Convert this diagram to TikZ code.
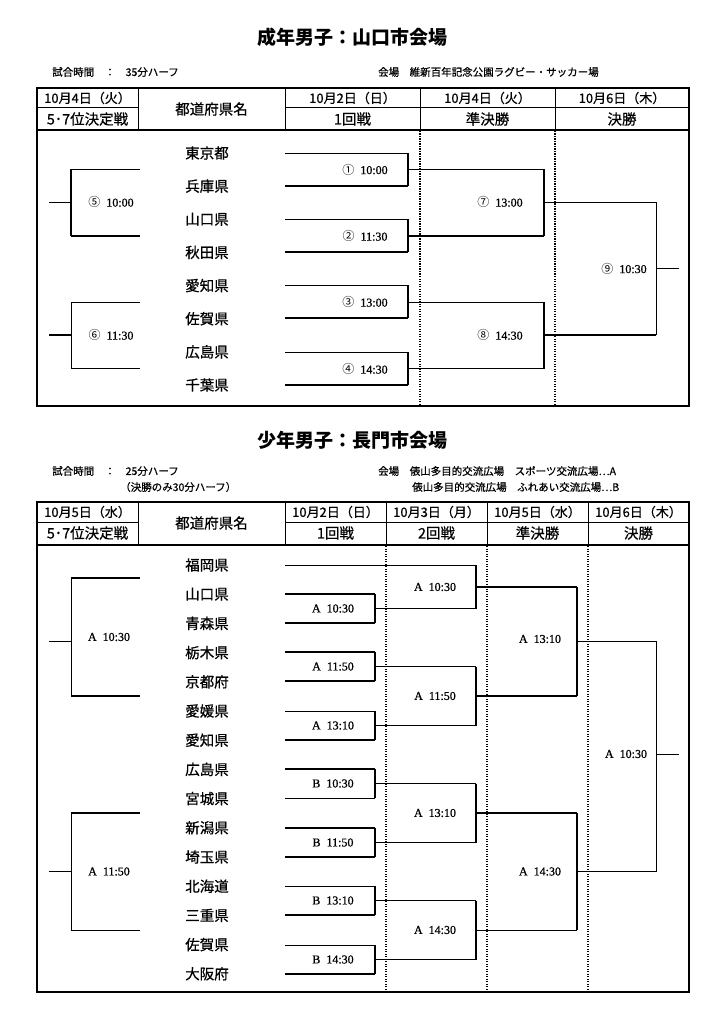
\documentclass[tikz,border=0pt]{standalone}
\usepackage{fontspec}
\setmainfont{Liberation Serif}
\newfontfamily\jp{Noto Sans CJK JP}
\newfontfamily\jpm[FakeBold=0.6]{Noto Sans CJK JP}
\newfontfamily\serb[FakeBold=0.8]{Liberation Serif}
\begin{document}
\begin{tikzpicture}[x=1pt,y=-1pt,
  thn/.style={line width=0.8pt},
  thk/.style={line width=1.8pt},
  frame/.style={line width=1.8pt},
  hline/.style={line width=1pt},
  dotv/.style={line width=1.2pt, dash pattern=on 1.1pt off 1.4pt},
  pref/.style={font=\jpm\fontsize{14.5}{15}\selectfont},
  lbl/.style={font=\serb\fontsize{12}{13}\selectfont},
  hdr/.style={font=\jpm\fontsize{13}{14}\selectfont},
  hdrk/.style={font=\jpm\fontsize{14.5}{15}\selectfont},
  small/.style={font=\jpm\fontsize{10.5}{11}\selectfont, anchor=west, inner sep=0pt},
  ttl/.style={font=\jp\bfseries\fontsize{19}{21}\selectfont}]
\useasboundingbox (0,0) rectangle (724,1024);
\fill[white] (0,0) rectangle (724,1024);

% ================= TOP =================
\node[ttl] (title1) at (352,37) {成年男子：山口市会場};
\node[small] (time1) at (52,72) {試合時間　：　35分ハーフ};
\node[small] (venue1) at (378,72) {会場　維新百年記念公園ラグビー・サッカー場};

\draw[frame] (37,88) rectangle (689,406);
\draw[frame] (37,130) -- (689,130);
\draw[hline] (37,108) -- (138,108);
\draw[hline] (285,108) -- (689,108);
\foreach \x in {138,285,420,555} \draw[hline] (\x,88) -- (\x,130);
\foreach \x in {420,555} \draw[dotv] (\x,131) -- (\x,405);

\node[hdr] (h1a) at (87.5,98) {10月4日（火）};
\node[hdrk] (h1b) at (87.5,119) {5･7位決定戦};
\node[hdrk] (h1c) at (211.5,109) {都道府県名};
\node[hdr] (h1d) at (352.5,98) {10月2日（日）};
\node[hdrk] (h1e) at (352.5,119) {1回戦};
\node[hdr] (h1f) at (487.5,98) {10月4日（火）};
\node[hdrk] (h1g) at (487.5,119) {準決勝};
\node[hdr] (h1h) at (622,98) {10月6日（木）};
\node[hdrk] (h1i) at (622,119) {決勝};

\foreach \n [count=\i from 0] in {東京都,兵庫県,山口県,秋田県,愛知県,佐賀県,広島県,千葉県}
  \node[pref] (tp\i) at (207,153+33.14*\i) {\n};

% first round
\draw[thn] (285,153) -- (408,153);
\draw[thk] (285,186) -- (408,186) (408,153) -- (408,186);
\draw[thn] (285,219) -- (408,219);
\draw[thk] (285,252) -- (408,252) (408,219) -- (408,252);
\draw[thn] (285,285) -- (408,285);
\draw[thk] (285,318) -- (408,318) (408,285) -- (408,318);
\draw[thn] (285,352) -- (408,352);
\draw[thk] (285,385) -- (408,385) (408,352) -- (408,385);
\node[lbl] (m1) at (365,169.5) {{\jp ①}\ \ 10:00};
\node[lbl] (m2) at (365,236) {{\jp ②}\ \ 11:30};
\node[lbl] (m3) at (365,302) {{\jp ③}\ \ 13:00};
\node[lbl] (m4) at (365,369) {{\jp ④}\ \ 14:30};
% semis
\draw[thk] (408,169.5) -- (544,169.5) (408,236) -- (544,236) (544,169.5) -- (544,236);
\draw[thn] (408,302) -- (544,302) (408,368.5) -- (544,368.5);
\draw[thk] (544,302) -- (544,368.5);
\node[lbl] (m7) at (500,202) {{\jp ⑦}\ \ 13:00};
\node[lbl] (m8) at (500,335) {{\jp ⑧}\ \ 14:30};
% final
\draw[thn] (544,202) -- (656,202) -- (656,335);
\draw[thk] (544,335) -- (656,335);
\draw[thk] (656,268.5) -- (679,268.5);
\node[lbl] (m9) at (624,268.5) {{\jp ⑨}\ \ 10:30};
% 5-7
\draw[thk] (140,169.5) -- (71,169.5) (71,236) -- (140,236);
\draw[line width=1.2pt] (71,169.5) -- (71,236);
\draw[thn] (49,202) -- (71,202);
\node[lbl] (m5) at (111,202) {{\jp ⑤}\ \ 10:00};
\draw[thn] (140,302) -- (71,302) -- (71,368.5) -- (140,368.5);
\draw[thk] (49,335) -- (71,335);
\node[lbl] (m6) at (111,335) {{\jp ⑥}\ \ 11:30};

% ================= BOTTOM =================
\node[ttl] (title2) at (352,440) {少年男子：長門市会場};
\node[small] (time2) at (52,471) {試合時間　：　25分ハーフ};
\node[small] (time2b) at (120,487) {（決勝のみ30分ハーフ）};
\node[small] (venue2) at (378,471) {会場　俵山多目的交流広場　スポーツ交流広場…A};
\node[small] (venue2b) at (412,487) {俵山多目的交流広場　ふれあい交流広場…B};

\draw[frame] (37,502) rectangle (689,992);
\draw[frame] (37,545) -- (689,545);
\draw[hline] (37,522) -- (138,522);
\draw[hline] (285,522) -- (689,522);
\foreach \x in {138,285,386,487,588} \draw[hline] (\x,502) -- (\x,545);
\foreach \x in {386,487,588} \draw[dotv] (\x,546) -- (\x,991);

\node[hdr] (h2a) at (87.5,512) {10月5日（水）};
\node[hdrk] (h2b) at (87.5,533) {5･7位決定戦};
\node[hdrk] (h2c) at (211.5,523) {都道府県名};
\node[hdr] (h2d) at (335.5,512) {10月2日（日）};
\node[hdrk] (h2e) at (335.5,533) {1回戦};
\node[hdr] (h2f) at (436.5,512) {10月3日（月）};
\node[hdrk] (h2g) at (436.5,533) {2回戦};
\node[hdr] (h2h) at (537.5,512) {10月5日（水）};
\node[hdrk] (h2i) at (537.5,533) {準決勝};
\node[hdr] (h2j) at (638.5,512) {10月6日（木）};
\node[hdrk] (h2k) at (638.5,533) {決勝};

\foreach \n [count=\i from 0] in {福岡県,山口県,青森県,栃木県,京都府,愛媛県,愛知県,広島県,宮城県,新潟県,埼玉県,北海道,三重県,佐賀県,大阪府}
  \node[pref] (bp\i) at (207,565+29.2*\i) {\n};

% round 1
\draw[thn] (285,565) -- (476,565);
\draw[thk] (285,594) -- (375,594) (285,623) -- (375,623) (375,594) -- (375,623);
\draw[thk] (285,652) -- (375,652) (285,681) -- (375,681) (375,652) -- (375,681);
\draw[thn] (285,711) -- (375,711);
\draw[thk] (285,740) -- (375,740) (375,711) -- (375,740);
\draw[thk] (285,769) -- (375,769) (375,769) -- (375,798);
\draw[thn] (285,798) -- (375,798);
\draw[thk] (285,828) -- (375,828) (285,857) -- (375,857) (375,828) -- (375,857);
\draw[thn] (285,886) -- (375,886);
\draw[thk] (285,915) -- (375,915) (375,886) -- (375,915);
\draw[thn] (285,945) -- (375,945);
\draw[thk] (285,974) -- (375,974) (375,945) -- (375,974);
\node[lbl] (r1a) at (333,608.5) {A\ \ 10:30};
\node[lbl] (r1b) at (333,666.5) {A\ \ 11:50};
\node[lbl] (r1c) at (333,725.5) {A\ \ 13:10};
\node[lbl] (r1d) at (333,783.5) {B\ \ 10:30};
\node[lbl] (r1e) at (333,842.5) {B\ \ 11:50};
\node[lbl] (r1f) at (333,900.5) {B\ \ 13:10};
\node[lbl] (r1g) at (333,959.5) {B\ \ 14:30};
% round 2
\draw[thn] (375,608.5) -- (476,608.5);
\draw[thk] (476,565) -- (476,608.5);
\draw[thn] (375,666.5) -- (476,666.5);
\draw[thk] (375,725.5) -- (476,725.5) (476,666.5) -- (476,725.5);
\draw[thk] (375,783.5) -- (476,783.5) (476,783.5) -- (476,842.5);
\draw[thn] (375,842.5) -- (476,842.5);
\draw[thn] (375,900.5) -- (476,900.5);
\draw[thk] (375,959.5) -- (476,959.5) (476,900.5) -- (476,959.5);
\node[lbl] (r2a) at (435,587) {A\ \ 10:30};
\node[lbl] (r2b) at (435,696) {A\ \ 11:50};
\node[lbl] (r2c) at (435,813) {A\ \ 13:10};
\node[lbl] (r2d) at (435,930) {A\ \ 14:30};
% semis
\draw[thk] (476,587) -- (577,587) (476,696) -- (577,696) (577,587) -- (577,696);
\draw[thk] (476,813) -- (577,813) (577,813) -- (577,930);
\draw[thn] (476,930) -- (577,930);
\node[lbl] (sfa) at (540,639) {A\ \ 13:10};
\node[lbl] (sfb) at (540,871.5) {A\ \ 14:30};
% final
\draw[thn] (577,641.5) -- (656,641.5) -- (656,871.5);
\draw[thk] (577,871.5) -- (656,871.5);
\draw[thn] (656,754) -- (679,754);
\node[lbl] (fin) at (626,754) {A\ \ 10:30};
% 5-7
\draw[thk] (140,578) -- (71,578) (71,696) -- (140,696);
\draw[thn] (71,578) -- (71,696) (49,641) -- (71,641);
\node[lbl] (p5a) at (109,637) {A\ \ 10:30};
\draw[thk] (140,813) -- (71,813) (49,871.5) -- (71,871.5);
\draw[thn] (71,813) -- (71,930) -- (140,930);
\node[lbl] (p5b) at (109,871.5) {A\ \ 11:50};
\end{tikzpicture}
\end{document}
